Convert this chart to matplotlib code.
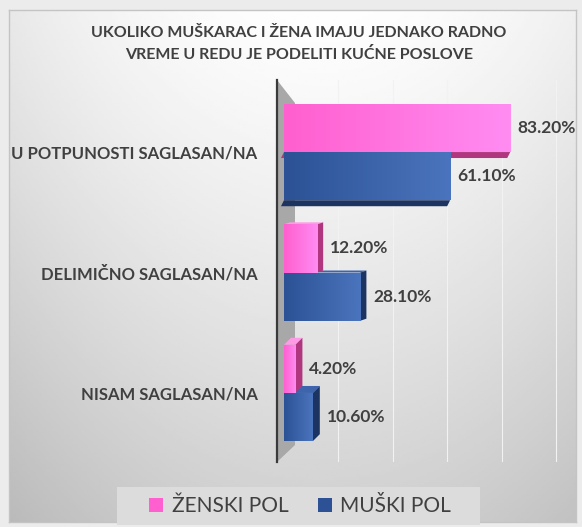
import numpy as np
import matplotlib
matplotlib.use('Agg')
import matplotlib.pyplot as plt
from matplotlib.patches import Polygon, Rectangle, Patch
from matplotlib.colors import LinearSegmentedColormap

plt.rcParams['font.family'] = ['Lato', 'DejaVu Sans']

# podaci
categories = ['U POTPUNOSTI SAGLASAN/NA', 'DELIMIČNO SAGLASAN/NA', 'NISAM SAGLASAN/NA']
zenski = [83.2, 12.2, 4.2]
muski = [61.1, 28.1, 10.6]
series_names = ['ŽENSKI POL', 'MUŠKI POL']
title = 'UKOLIKO MUŠKARAC I ŽENA IMAJU JEDNAKO RADNO\nVREME U REDU JE PODELITI KUĆNE POSLOVE'

W, H = 582, 527
txt = '#404040'
pink = ('#ff5fcf', '#ff8cf2', '#b0377f', '#ff9be6')   # levo, desno, tamna strana, gornja strana
blue = ('#2c5295', '#4a74bd', '#1c3462', '#3d64ad')

fig = plt.figure(figsize=(W / 100, H / 100), dpi=100)
fig.patch.set_facecolor('#ececec')

# pozadina panela (gradijent)
bg = fig.add_axes([9 / W, 5 / H, (576 - 9) / W, (517 - 5) / H], zorder=-10)
yy, xx = np.mgrid[0:1:200j, 0:1:200j]
grad = 0.995 - 0.18 * yy ** 1.2 - 0.07 * (np.abs(xx - 0.55) * 2) ** 2
bg.imshow(grad, cmap='gray', vmin=0, vmax=1, aspect='auto', extent=(0, 1, 0, 1), origin='upper')
bg.set_xlim(0, 1)
bg.set_ylim(0, 1)
for s in bg.spines.values():
    s.set_color('#c4c4c4')
    s.set_linewidth(1)
bg.set_xticks([])
bg.set_yticks([])

# glavna osa
ax = fig.add_axes([277 / W, (H - 462) / H, (560 - 277) / W, (462 - 80) / H])
ax.patch.set_alpha(0)
XLIM = (-2.57, 101.5)
YLIM = (-0.573, 2.598)
ax.set_xlim(*XLIM)
ax.set_ylim(*YLIM)

ypos = np.arange(len(categories))[::-1]
bh = 0.4


def px2data(px, py):
    return ax.transData.inverted().transform((px, H - py))


def d(dx_px, dy_px):
    a = px2data(0, 0)
    b = px2data(dx_px, dy_px)
    return b[0] - a[0], b[1] - a[1]


# 3D zid
x0 = XLIM[0]
xw = px2data(295, 0)[0]
yt2 = px2data(0, 103)[1]
yb2 = px2data(0, 445)[1]
ax.add_patch(Polygon([(x0, YLIM[0]), (x0, YLIM[1]), (xw, yt2), (xw, yb2)],
                     closed=True, facecolor='#a8a8a8', edgecolor='none', zorder=1))

ax.set_xticks([20, 40, 60, 80, 100])
ax.grid(axis='x', color='#f2f2f2', linewidth=0.8, zorder=0)
ax.tick_params(axis='x', length=0, labelbottom=False)

# dubina po grupi (px): gore se vidi donja strana, dole gornja
depth = [(-3, 6), (6, -2), (7, -7)]


def bar3d(val, yc, cols, ddx, ddy, z):
    y0, y1 = yc - bh / 2, yc + bh / 2
    ox, oy = d(ddx, ddy)
    if oy < 0:
        face = [(0, y0), (val, y0), (val + ox, y0 + oy), (ox, y0 + oy)]
        ax.add_patch(Polygon(face, closed=True, facecolor=cols[2], edgecolor='none', zorder=z))
    else:
        face = [(0, y1), (val, y1), (val + ox, y1 + oy), (ox, y1 + oy)]
        ax.add_patch(Polygon(face, closed=True, facecolor=cols[3], edgecolor='none', zorder=z))
    if ox > 0:
        side = [(val, y0), (val, y1), (val + ox, y1 + oy), (val + ox, y0 + oy)]
        ax.add_patch(Polygon(side, closed=True, facecolor=cols[2], edgecolor='none', zorder=z))
    b = ax.barh(yc, val, height=bh, color=cols[0], edgecolor='none', zorder=z + 0.1)[0]
    g = np.linspace(0, 1, 64).reshape(1, -1)
    cm = LinearSegmentedColormap.from_list('g', [cols[0], cols[1]])
    im = ax.imshow(g, cmap=cm, aspect='auto', extent=(0, val, y0, y1),
                   zorder=z + 0.2, interpolation='bicubic')
    im.set_clip_path(b)
    ax.annotate(f'{val:.2f}%', (val, yc), xytext=(max(ddx, 0) + 7, 0),
                textcoords='offset pixels', va='center', ha='left',
                fontsize=12.5, fontweight='bold', color=txt, zorder=10)


for i in range(len(categories)):
    ddx, ddy = depth[i]
    yc = ypos[i]
    if ddy > 0:
        bar3d(zenski[i], yc + bh / 2, pink, ddx, ddy, 3)
        bar3d(muski[i], yc - bh / 2, blue, ddx, ddy, 5)
    else:
        bar3d(muski[i], yc - bh / 2, blue, ddx, ddy, 3)
        bar3d(zenski[i], yc + bh / 2, pink, ddx, ddy, 5)

ax.set_xlim(*XLIM)
ax.set_ylim(*YLIM)
ax.set_yticks(ypos)
ax.set_yticklabels(categories, fontsize=12, fontweight='bold', color=txt)
ax.tick_params(axis='y', length=0, pad=14)
for s in ['top', 'right', 'bottom']:
    ax.spines[s].set_visible(False)
ax.spines['left'].set_color('#3a3a3a')
ax.spines['left'].set_linewidth(1.6)
ax.spines['left'].set_zorder(2)

fig.text(299 / W, 1 - 44 / H, title, ha='center', va='center', fontsize=11.5,
         fontweight='bold', color=txt, linespacing=1.55)

# legenda
fig.patches.append(Rectangle((117 / W, 2 / H), (480 - 117) / W, 38 / H,
                             transform=fig.transFigure, facecolor='#dcdcdc',
                             edgecolor='none', zorder=-5))
handles = [Patch(facecolor=pink[0], edgecolor='none'), Patch(facecolor=blue[0], edgecolor='none')]
fig.legend(handles, series_names, loc='center', bbox_to_anchor=(300 / W, 1 - 506 / H),
           ncol=2, frameon=False, fontsize=15, handlelength=0.68, handleheight=0.68,
           handletextpad=0.4, columnspacing=1.4, labelcolor=txt)

fig.savefig('out.png', dpi=100)
